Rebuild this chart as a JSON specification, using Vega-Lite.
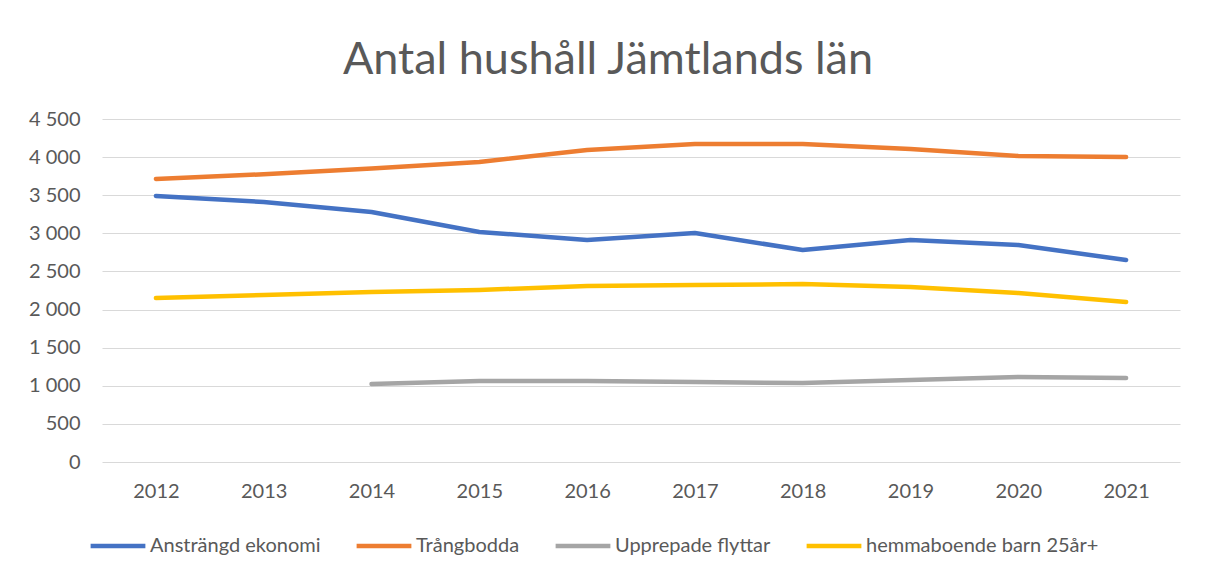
{
  "$schema": "https://vega.github.io/schema/vega-lite/v6.json",
  "autosize": {"type": "none"},
  "width": 1078,
  "height": 343,
  "padding": {"left": 102, "top": 119, "right": 26, "bottom": 116},
  "background": "white",
  "title": {
    "text": "Antal hushåll Jämtlands län",
    "font": "Lato",
    "fontSize": 45,
    "fontWeight": "normal",
    "color": "#595959",
    "anchor": "middle",
    "frame": "group",
    "dx": -33,
    "offset": 26
  },
  "data": {
    "values": [
      {"year": "2012", "serie": "Ansträngd ekonomi", "value": 3490},
      {"year": "2013", "serie": "Ansträngd ekonomi", "value": 3411},
      {"year": "2014", "serie": "Ansträngd ekonomi", "value": 3280},
      {"year": "2015", "serie": "Ansträngd ekonomi", "value": 3018},
      {"year": "2016", "serie": "Ansträngd ekonomi", "value": 2913},
      {"year": "2017", "serie": "Ansträngd ekonomi", "value": 3004},
      {"year": "2018", "serie": "Ansträngd ekonomi", "value": 2781},
      {"year": "2019", "serie": "Ansträngd ekonomi", "value": 2913},
      {"year": "2020", "serie": "Ansträngd ekonomi", "value": 2847},
      {"year": "2021", "serie": "Ansträngd ekonomi", "value": 2650},
      {"year": "2012", "serie": "Trångbodda", "value": 3713},
      {"year": "2013", "serie": "Trångbodda", "value": 3775},
      {"year": "2014", "serie": "Trångbodda", "value": 3852},
      {"year": "2015", "serie": "Trångbodda", "value": 3936},
      {"year": "2016", "serie": "Trångbodda", "value": 4093},
      {"year": "2017", "serie": "Trångbodda", "value": 4172},
      {"year": "2018", "serie": "Trångbodda", "value": 4172},
      {"year": "2019", "serie": "Trångbodda", "value": 4107},
      {"year": "2020", "serie": "Trångbodda", "value": 4015},
      {"year": "2021", "serie": "Trångbodda", "value": 4002},
      {"year": "2014", "serie": "Upprepade flyttar", "value": 1023},
      {"year": "2015", "serie": "Upprepade flyttar", "value": 1063},
      {"year": "2016", "serie": "Upprepade flyttar", "value": 1063},
      {"year": "2017", "serie": "Upprepade flyttar", "value": 1050},
      {"year": "2018", "serie": "Upprepade flyttar", "value": 1036},
      {"year": "2019", "serie": "Upprepade flyttar", "value": 1076},
      {"year": "2020", "serie": "Upprepade flyttar", "value": 1115},
      {"year": "2021", "serie": "Upprepade flyttar", "value": 1102},
      {"year": "2012", "serie": "hemmaboende barn 25år+", "value": 2152},
      {"year": "2013", "serie": "hemmaboende barn 25år+", "value": 2191},
      {"year": "2014", "serie": "hemmaboende barn 25år+", "value": 2230},
      {"year": "2015", "serie": "hemmaboende barn 25år+", "value": 2257},
      {"year": "2016", "serie": "hemmaboende barn 25år+", "value": 2309},
      {"year": "2017", "serie": "hemmaboende barn 25år+", "value": 2322},
      {"year": "2018", "serie": "hemmaboende barn 25år+", "value": 2335},
      {"year": "2019", "serie": "hemmaboende barn 25år+", "value": 2296},
      {"year": "2020", "serie": "hemmaboende barn 25år+", "value": 2217},
      {"year": "2021", "serie": "hemmaboende barn 25år+", "value": 2099}
    ]
  },
  "mark": {"type": "line", "strokeWidth": 4.5, "strokeCap": "round", "strokeJoin": "round"},
  "encoding": {
    "x": {
      "field": "year",
      "type": "ordinal",
      "title": null,
      "axis": {
        "labelAngle": 0,
        "ticks": false,
        "domain": false,
        "labelFont": "Lato",
        "labelFontSize": 20,
        "labelColor": "#595959",
        "labelPadding": 19
      }
    },
    "y": {
      "field": "value",
      "type": "quantitative",
      "title": null,
      "scale": {"domain": [0, 4500], "nice": false},
      "axis": {
        "values": [0, 500, 1000, 1500, 2000, 2500, 3000, 3500, 4000, 4500],
        "labelExpr": "replace(format(datum.value, ','), ',', ' ')",
        "ticks": false,
        "domain": false,
        "grid": true,
        "gridColor": "#d9d9d9",
        "gridWidth": 1.2,
        "labelFont": "Lato",
        "labelFontSize": 20,
        "labelColor": "#595959",
        "labelPadding": 22
      }
    },
    "color": {
      "field": "serie",
      "type": "nominal",
      "scale": {
        "domain": ["Ansträngd ekonomi", "Trångbodda", "Upprepade flyttar", "hemmaboende barn 25år+"],
        "range": ["#4472C4", "#ED7D31", "#A5A5A5", "#FFC000"]
      },
      "legend": {
        "title": null,
        "orient": "none",
        "direction": "horizontal",
        "legendX": -14,
        "legendY": 397,
        "symbolType": "stroke",
        "symbolSize": 3000,
        "symbolStrokeWidth": 4.5,
        "labelFont": "Lato",
        "labelFontSize": 20,
        "labelLimit": 0,
        "labelColor": "#595959",
        "labelOffset": 2,
        "columnPadding": 26
      }
    }
  },
  "config": {
    "view": {"stroke": null}
  }
}
